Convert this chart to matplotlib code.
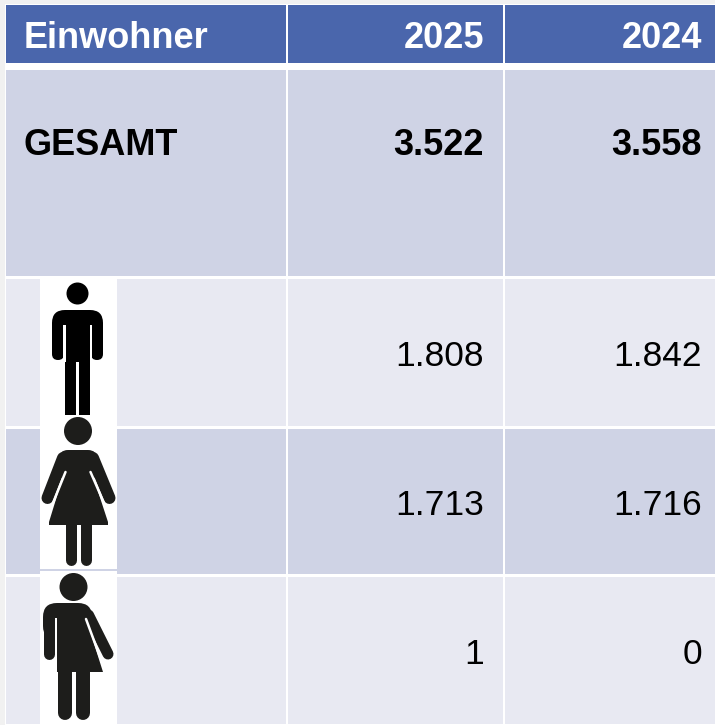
import matplotlib
matplotlib.use('Agg')
import matplotlib.pyplot as plt
from matplotlib.patches import Rectangle, Circle, Polygon, FancyBboxPatch

# Input data
header = ['Einwohner', '2025', '2024']
total_label = 'GESAMT'
total_values = ['3.522', '3.558']
values_2025 = ['1.808', '1.713', '1']
values_2024 = ['1.842', '1.716', '0']

# Colours
BLUE = '#4A66AC'
DARK = '#CFD3E5'
LIGHT = '#E8E9F2'
ICON = '#1D1D1B'

plt.rcParams['font.family'] = ['Liberation Sans', 'DejaVu Sans']

fig = plt.figure(figsize=(7.15, 7.25), dpi=100)
ax = fig.add_axes([0, 0, 1, 1])
ax.set_xlim(0, 715)
ax.set_ylim(725, 0)
ax.axis('off')


def cell(x0, x1, y0, y1, color):
    ax.add_patch(Rectangle((x0, y0), x1 - x0, y1 - y0, fc=color, ec='none'))


def stroke(pts, width, color, z=4):
    # width is in pixels, linewidth in points
    xs, ys = zip(*pts)
    ax.plot(xs, ys, color=color, lw=width * 0.72, solid_capstyle='round',
            solid_joinstyle='round', zorder=z)


def box(x0, y0, x1, y1, r, color, z=4):
    ax.add_patch(FancyBboxPatch((x0 + r, y0 + r), x1 - x0 - 2 * r, y1 - y0 - 2 * r,
                                boxstyle=f'round,pad={r},rounding_size={r}',
                                fc=color, ec='none', zorder=z))


# White backing, table cells
cell(5, 715, 4, 725, 'white')
cols = [(6, 286), (288, 503), (505, 715)]
rows = [(5, 63, BLUE), (70, 276, DARK), (279, 426, LIGHT), (429, 574, DARK), (577, 724, LIGHT)]
for y0, y1, color in rows:
    for x0, x1 in cols:
        cell(x0, x1, y0, y1, color)

# White strips behind the icons
cell(40, 117, 279, 416, 'white')
cell(40, 117, 416, 569, 'white')
cell(40, 117, 569, 571, DARK)
cell(40, 117, 571, 724, 'white')

# Man
c = '#000000'
ax.add_patch(Circle((77.5, 293.5), 11, fc=c, ec='none', zorder=4))
box(52, 310, 103, 340, 13, c)
box(52, 320, 64, 360, 6, c)
box(91, 320, 103, 360, 6, c)
ax.add_patch(Rectangle((65, 330), 25, 85, fc=c, ec='none', zorder=4))
ax.add_patch(Rectangle((63, 325), 2.5, 37, fc='white', ec='none', zorder=5))
ax.add_patch(Rectangle((89.5, 325), 2.5, 37, fc='white', ec='none', zorder=5))
ax.add_patch(Rectangle((76, 362), 3, 54, fc='white', ec='none', zorder=5))

# Woman
c = ICON
ax.add_patch(Circle((78, 431), 14, fc=c, ec='none', zorder=4))
box(59, 450, 97, 480, 9, c)
stroke([(63, 458), (47.5, 498)], 12, c)
stroke([(93, 458), (109.5, 498)], 12, c)
ax.add_patch(Polygon([(65, 470), (91, 470), (108, 522), (108, 525), (49, 525), (49, 522)],
                     closed=True, fc=c, ec='none', zorder=4))
stroke([(65.5, 472), (53, 503)], 2.5, 'white', z=4.5)
stroke([(90.5, 472), (104, 503)], 2.5, 'white', z=4.5)
stroke([(70.5, 522), (70.5, 560)], 11, c)
stroke([(85.5, 522), (85.5, 560)], 11, c)

# Third icon
ax.add_patch(Circle((73.5, 587), 14, fc=c, ec='none', zorder=4))
box(43, 603, 92, 640, 14, c)
stroke([(48.5, 618), (48.5, 654)], 11, c)
stroke([(88.5, 615), (108, 654)], 11, c)
ax.add_patch(Polygon([(57, 612), (84, 612), (103, 672), (57, 672)],
                     closed=True, fc=c, ec='none', zorder=4))
stroke([(86, 619), (103, 665)], 2.5, 'white', z=4.5)
ax.add_patch(Rectangle((55, 618), 2.2, 44, fc='white', ec='none', zorder=5))
stroke([(64.5, 665), (64.5, 713)], 14, c)
stroke([(82.5, 665), (82.5, 713)], 14, c)

# Text
LEFT_X, COL1_X, COL2_X = 24, 484, 702
FS = 26
FS_VAL = 25.5
ax.text(LEFT_X, 48, header[0], color='white', fontsize=FS, fontweight='bold')
ax.text(COL1_X, 48, header[1], color='white', fontsize=FS, fontweight='bold', ha='right')
ax.text(COL2_X, 48, header[2], color='white', fontsize=FS, fontweight='bold', ha='right')

ax.text(LEFT_X - 0.5, 155, total_label, color='black', fontsize=FS, fontweight='bold')
ax.text(COL1_X, 155, total_values[0], color='black', fontsize=FS, fontweight='bold', ha='right')
ax.text(COL2_X, 155, total_values[1], color='black', fontsize=FS, fontweight='bold', ha='right')

for y, v25, v24 in zip([366, 515, 664], values_2025, values_2024):
    ax.text(COL1_X, y, v25, color='black', fontsize=FS_VAL, ha='right')
    ax.text(COL2_X, y, v24, color='black', fontsize=FS_VAL, ha='right')

plt.savefig('out.png', dpi=100, facecolor='#F1F1F1')
plt.close()
